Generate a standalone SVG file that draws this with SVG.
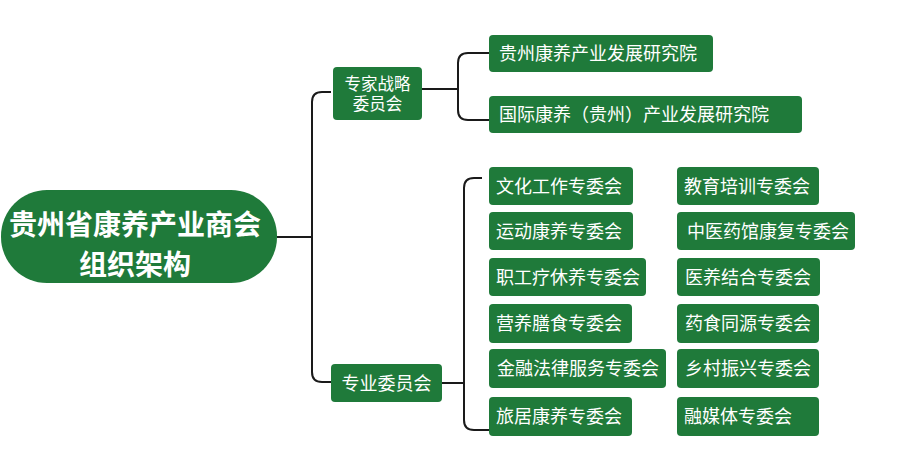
<svg xmlns="http://www.w3.org/2000/svg" width="900" height="475" viewBox="0 0 900 475">
<style>
.box{fill:#1f7a3a;}
.t{fill:#ffffff;font-family:"Noto Sans CJK SC","Noto Sans",sans-serif;font-size:18px;}
.ts{fill:#ffffff;font-family:"Noto Sans CJK SC","Noto Sans",sans-serif;font-size:16.5px;text-anchor:middle;}
.tm{fill:#ffffff;font-family:"Noto Sans CJK SC","Noto Sans",sans-serif;font-size:28px;font-weight:bold;text-anchor:middle;}
.c{fill:none;stroke:#1a1a1a;stroke-width:2;}
</style>
<rect width="900" height="475" fill="#ffffff"/>
<g id="connectors">
<path class="c" d="M277,237 H312"/>
<path class="c" d="M331,92 H322 Q312,92 312,102 V372 Q312,382 322,382 H331"/>
<path class="c" d="M422,89 H458"/>
<path class="c" d="M489,53 H468 Q458,53 458,63 V110 Q458,120 468,120 H489"/>
<path class="c" d="M442,383 H464"/>
<path class="c" d="M482,178 H474 Q464,178 464,188 V420 Q464,430 474,430 H489"/>
</g>
<g id="root">
<rect class="box" x="1" y="190" width="276" height="93" rx="46"/>
<text class="tm" x="135" y="235">贵州省康养产业商会</text>
<text class="tm" x="135" y="275">组织架构</text>
</g>
<g id="expert">
<rect class="box" x="333" y="67" width="89" height="53" rx="4"/>
<text class="ts" x="377.5" y="90">专家战略</text>
<text class="ts" x="377.5" y="110">委员会</text>
</g>
<g id="inst1">
<rect class="box" x="489" y="35" width="224" height="37" rx="4"/>
<text class="t" x="499" y="60">贵州康养产业发展研究院</text>
</g>
<g id="inst2">
<rect class="box" x="489" y="96" width="313" height="37" rx="4"/>
<text class="t" x="499" y="121">国际康养（贵州）产业发展研究院</text>
</g>
<g id="prof">
<rect class="box" x="331" y="364" width="111" height="38" rx="4"/>
<text class="t" x="386.5" y="390" text-anchor="middle">专业委员会</text>
</g>
<g id="c1"><rect class="box" x="489" y="167" width="144" height="38" rx="4"/><text class="t" x="496" y="193">文化工作专委会</text></g>
<g id="c2"><rect class="box" x="489" y="212" width="144" height="38" rx="4"/><text class="t" x="496" y="238">运动康养专委会</text></g>
<g id="c3"><rect class="box" x="489" y="258" width="157" height="38" rx="4"/><text class="t" x="496" y="284">职工疗休养专委会</text></g>
<g id="c4"><rect class="box" x="489" y="304" width="143" height="39" rx="4"/><text class="t" x="496" y="330">营养膳食专委会</text></g>
<g id="c5"><rect class="box" x="489" y="349" width="177" height="39" rx="4"/><text class="t" x="497" y="375">金融法律服务专委会</text></g>
<g id="c6"><rect class="box" x="489" y="397" width="143" height="39" rx="4"/><text class="t" x="496" y="423">旅居康养专委会</text></g>
<g id="d1"><rect class="box" x="677" y="167" width="142" height="38" rx="4"/><text class="t" x="684" y="193">教育培训专委会</text></g>
<g id="d2"><rect class="box" x="677" y="212" width="178" height="38" rx="4"/><text class="t" x="687" y="238">中医药馆康复专委会</text></g>
<g id="d3"><rect class="box" x="677" y="258" width="143" height="38" rx="4"/><text class="t" x="685" y="284">医养结合专委会</text></g>
<g id="d4"><rect class="box" x="677" y="304" width="142" height="39" rx="4"/><text class="t" x="685" y="330">药食同源专委会</text></g>
<g id="d5"><rect class="box" x="677" y="349" width="142" height="39" rx="4"/><text class="t" x="685" y="375">乡村振兴专委会</text></g>
<g id="d6"><rect class="box" x="677" y="397" width="142" height="39" rx="4"/><text class="t" x="684" y="423">融媒体专委会</text></g>
</svg>
